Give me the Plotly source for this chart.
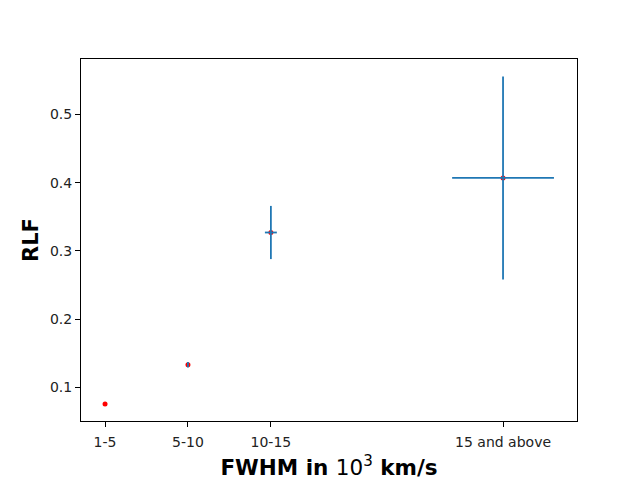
import plotly.graph_objects as go

categories = ["1-5", "5-10", "10-15", "15 and above"]
x_pos = [3, 8, 13, 27]
rlf = [0.0755, 0.133, 0.327, 0.407]
rlf_err = [0.0, 0.004, 0.039, 0.149]
x_err = [0.0, 0.0, 0.36, 3.07]

fig = go.Figure()
fig.add_trace(go.Scatter(
    x=x_pos, y=rlf, mode="markers",
    marker=dict(color="red", size=5, line=dict(width=0)),
    showlegend=False,
))
fig.add_trace(go.Scatter(
    x=x_pos, y=rlf, mode="markers",
    marker=dict(color="#1f77b4", size=1, opacity=0),
    error_y=dict(type="data", array=rlf_err, visible=True, color="#1f77b4", thickness=1.8, width=0),
    error_x=dict(type="data", array=x_err, visible=True, color="#1f77b4", thickness=1.8, width=0),
    showlegend=False,
))

axis_common = dict(
    showgrid=False, zeroline=False, showline=True, linecolor="black", linewidth=1,
    mirror=True, ticks="outside", ticklen=5, tickcolor="black", tickwidth=1,
    tickfont=dict(family="DejaVu Sans", size=14, color="#222"),
)
fig.update_xaxes(
    range=[1.55, 31.46], tickvals=x_pos, ticktext=categories, ticklabelstandoff=3,
    title=dict(text="<b>FWHM in </b>10<sup>3</sup><b> km/s</b>", font=dict(family="DejaVu Sans", size=21.5, color="black"), standoff=11),
    **axis_common,
)
fig.update_yaxes(
    range=[0.0505, 0.5815], tickvals=[0.1, 0.2, 0.3, 0.4, 0.5],
    ticktext=["0.1", "0.2", "0.3", "0.4", "0.5"],
    title=dict(text="<b>RLF</b>", font=dict(family="DejaVu Sans", size=21, color="black"), standoff=5),
    **axis_common,
)
fig.update_layout(
    width=640, height=480,
    margin=dict(l=73, r=71, t=51, b=61),
    plot_bgcolor="white", paper_bgcolor="white",
)
fig.write_html("out.html")
